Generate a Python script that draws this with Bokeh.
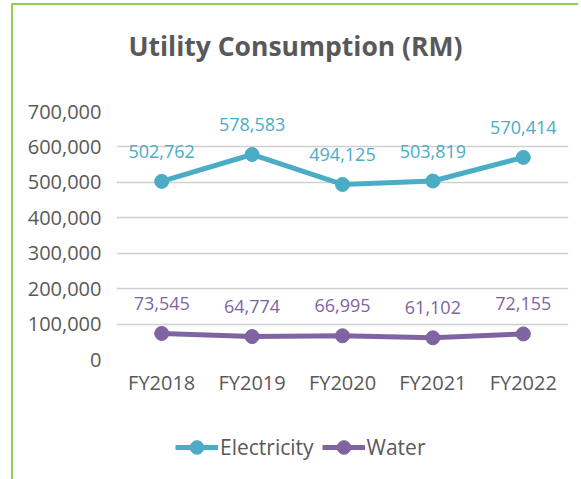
from bokeh.plotting import figure
from bokeh.layouts import column
from bokeh.models import (ColumnDataSource, Range1d, FactorRange, FixedTicker,
                          NumeralTickFormatter, LabelSet, Label, Legend, LegendItem)
from bokeh.core.properties import value
from bokeh.embed import file_html
from bokeh.resources import INLINE

years = ["FY2018", "FY2019", "FY2020", "FY2021", "FY2022"]
electricity = [502762, 578583, 494125, 503819, 570414]
water = [73545, 64774, 66995, 61102, 72155]
y_ticks = [0, 100000, 200000, 300000, 400000, 500000, 600000, 700000]
title_text = "Utility Consumption (RM)"

ELEC = "#4BACC6"
WATER = "#8064A2"
GRAY = "#595959"
FONT = "Open Sans"


def strip(height):
    f = figure(x_range=Range1d(0, 1), y_range=Range1d(0, 1), width=565, height=height,
               output_backend="svg", toolbar_location=None,
               min_border_left=103, min_border_right=10, min_border_top=0,
               min_border_bottom=0)
    f.axis.visible = False
    f.grid.grid_line_color = None
    f.outline_line_color = None
    f.border_fill_color = "white"
    return f


# title strip
p0 = strip(80)
p0.add_layout(Label(x=0.396, y=0.5, text=title_text, text_align="center",
                    text_baseline="middle", text_font=FONT, text_font_size="26.5px",
                    text_font_style="bold", text_color=GRAY))

# main chart
p = figure(x_range=FactorRange(*years), y_range=Range1d(0, 700000),
           width=565, height=340, output_backend="svg", toolbar_location=None,
           min_border_left=103, min_border_right=10, min_border_top=26,
           min_border_bottom=66)
p.outline_line_color = None
p.background_fill_color = "white"
p.border_fill_color = "white"

p.xgrid.grid_line_color = None
p.ygrid.grid_line_color = "#D0D0D0"
p.ygrid.grid_line_width = 1.3

p.yaxis.ticker = FixedTicker(ticks=y_ticks)
p.yaxis.formatter = NumeralTickFormatter(format="0,0")
for ax in (p.xaxis[0], p.yaxis[0]):
    ax.axis_line_color = None
    ax.major_tick_line_color = None
    ax.minor_tick_line_color = None
    ax.major_label_text_font = FONT
    ax.major_label_text_font_size = "20px"
    ax.major_label_text_color = GRAY
p.yaxis.major_label_standoff = 9
p.xaxis.major_label_standoff = 3

src = ColumnDataSource(dict(x=years, e=electricity, w=water,
                            et=[f"{v:,}" for v in electricity],
                            wt=[f"{v:,}" for v in water]))

p.line("x", "e", source=src, line_color=ELEC, line_width=5)
p.scatter("x", "e", source=src, size=14, fill_color=ELEC, line_color=ELEC)
p.line("x", "w", source=src, line_color=WATER, line_width=5)
p.scatter("x", "w", source=src, size=14, fill_color=WATER, line_color=WATER)

for col, txt, color in (("e", "et", ELEC), ("w", "wt", WATER)):
    p.add_layout(LabelSet(x="x", y=col, text=txt, source=src, y_offset=30,
                          text_align="center", text_baseline="middle",
                          text_font=value(FONT), text_font_size=value("18px"),
                          text_color=value(color)))

# legend strip below the chart (its glyphs sit outside its own ranges, so only the legend shows)
p2 = strip(54)
le = p2.line(x=[5, 6], y=[5, 5], line_color=ELEC, line_width=5)
se = p2.scatter(x=[5], y=[5], size=14, fill_color=ELEC, line_color=ELEC)
lw = p2.line(x=[5, 6], y=[5, 5], line_color=WATER, line_width=5)
sw = p2.scatter(x=[5], y=[5], size=14, fill_color=WATER, line_color=WATER)
legend = Legend(items=[LegendItem(label="Electricity", renderers=[le, se]),
                       LegendItem(label="Water", renderers=[lw, sw])],
                location=(59, 15), orientation="horizontal",
                padding=0, margin=0, spacing=8, glyph_width=43, glyph_height=34,
                label_standoff=2, border_line_color=None, background_fill_alpha=0,
                label_text_font=FONT, label_text_font_size="21px",
                label_text_color=GRAY)
p2.add_layout(legend, "center")

layout = column(p0, p, p2, spacing=0)
layout.styles = {"border-left": "2px solid #92D050", "border-top": "2px solid #92D050",
                 "margin-left": "11px", "margin-top": "3px"}

open("out.html", "w").write(file_html(layout, INLINE))
